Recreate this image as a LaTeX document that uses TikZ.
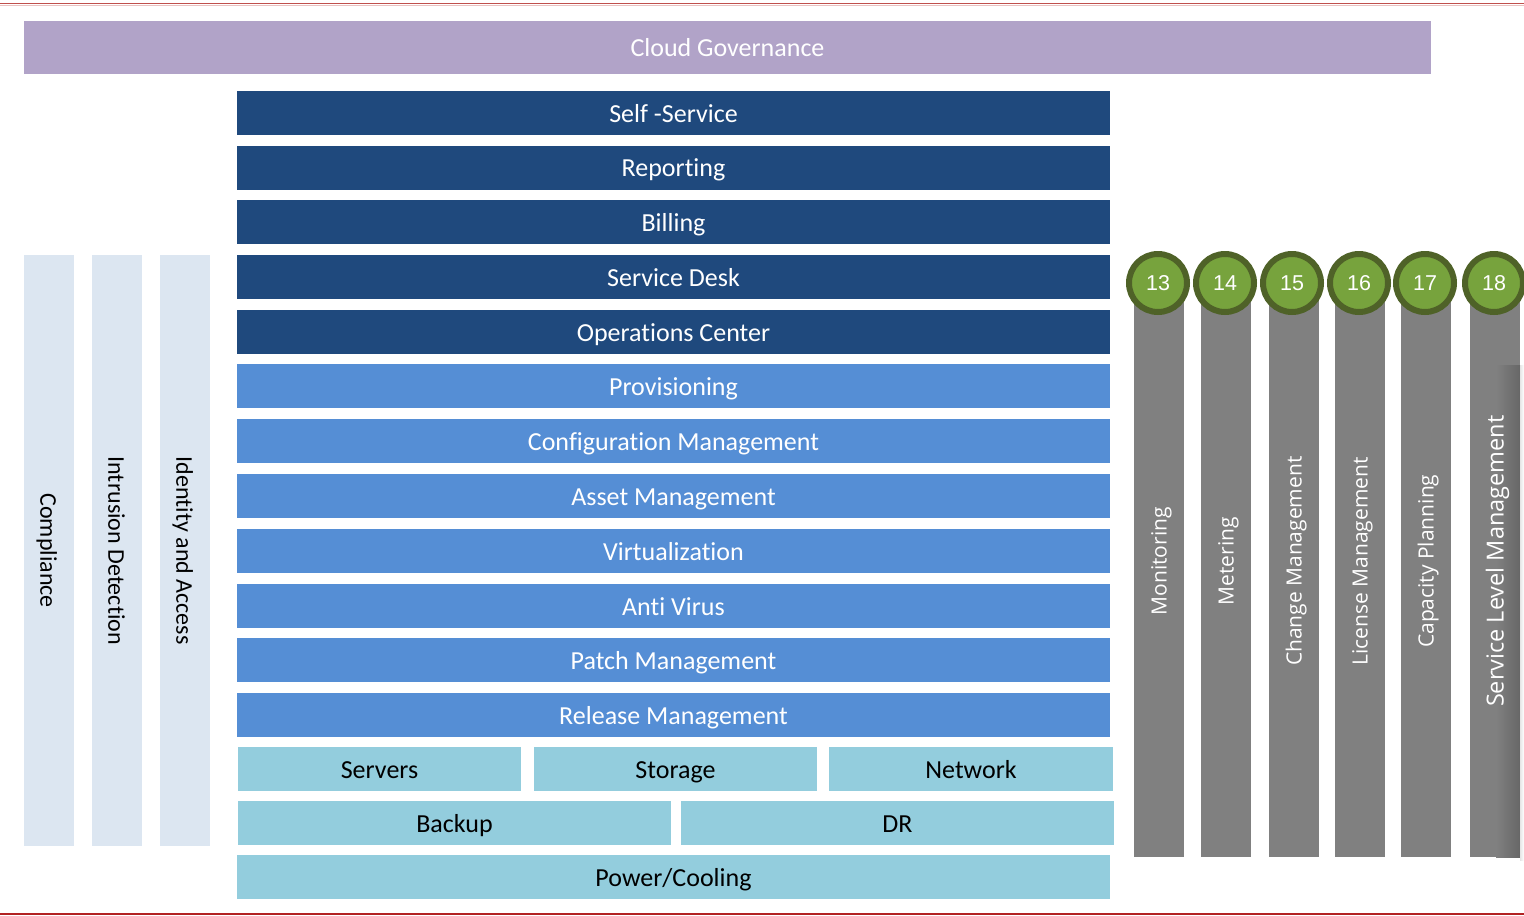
\documentclass[tikz,border=0pt]{standalone}
\usepackage{fontspec}
\setmainfont{Carlito}[Ligatures=NoCommon]
\newfontfamily\grayfont{Open Sans}[Ligatures=NoCommon]
\newfontfamily\numfont{Liberation Sans}
\definecolor{govc}{RGB}{177,163,200}
\definecolor{darkb}{RGB}{31,73,125}
\definecolor{midb}{RGB}{85,142,213}
\definecolor{lightb}{RGB}{147,205,221}
\definecolor{paleb}{RGB}{220,230,241}
\definecolor{grayc}{RGB}{128,128,128}
\definecolor{grnfill}{RGB}{119,163,61}
\definecolor{grnline}{RGB}{79,98,40}
\definecolor{redline}{RGB}{178,34,34}
\definecolor{topred}{RGB}{192,80,77}
\begin{document}
\begin{tikzpicture}[x=1pt,y=-1pt,
  bar/.style={anchor=north west,inner sep=0pt,outer sep=0pt,font=\fontsize{26}{30}\selectfont,text height=18.5pt,text depth=0pt},
  darkbar/.style={bar,fill=darkb,text=white,minimum width=873pt,minimum height=44pt},
  midbar/.style={bar,fill=midb,text=white,minimum width=873pt,minimum height=44pt},
  lightbar/.style={bar,fill=lightb,text=black,minimum height=44pt},
  leftcol/.style={anchor=north west,inner sep=0pt,fill=paleb,minimum width=50pt,minimum height=591pt},
  lefttext/.style={rotate=-90,inner sep=0pt,font=\fontsize{24}{28}\selectfont,text height=15.5pt,text depth=0pt},
  graycol/.style={anchor=north west,inner sep=0pt,fill=grayc,minimum width=50pt,minimum height=592pt},
  graytext/.style={text=white,rotate=90,inner sep=0pt,font=\grayfont\fontsize{21}{24}\selectfont,text height=15pt,text depth=0pt},
  numc/.style={circle,fill=grnfill,draw=grnline,line width=6pt,minimum size=58pt,inner sep=0pt,text=white,font=\numfont\fontsize{21.5}{24}\selectfont,text height=15.4pt,text depth=0pt}]
\useasboundingbox (0,0) rectangle (1524,916);
% top and bottom rules
\draw[topred!35,line width=1.5pt] (0,5.5) -- (1524,5.5);
\draw[topred,line width=1.6pt] (0,3.5) -- (1524,3.5);
\draw[redline,line width=2pt] (0,914) -- (1524,914);
% governance
\node[bar,fill=govc,text=white,minimum width=1407pt,minimum height=53pt] (gov) at (24,21) {Cloud Governance};
% dark bars
\node[darkbar] (ss) at (237,91) {Self -Service};
\node[darkbar] (rep) at (237,145.5) {Reporting};
\node[darkbar] (bil) at (237,200) {Billing};
\node[darkbar] (sd) at (237,255) {Service Desk};
\node[darkbar] (oc) at (237,310) {Operations Center};
% mid bars
\node[midbar] (prov) at (237,364) {Provisioning};
\node[midbar] (cfg) at (237,419) {Configuration Management};
\node[midbar] (asset) at (237,474) {Asset Management};
\node[midbar] (virt) at (237,529) {Virtualization};
\node[midbar] (av) at (237,584) {Anti Virus};
\node[midbar] (patch) at (237,638) {Patch Management};
\node[midbar] (rel) at (237,693) {Release Management};
% light bars
\node[lightbar,minimum width=283pt] (srv) at (238,747) {Servers};
\node[lightbar,minimum width=283pt] (sto) at (534,747) {Storage};
\node[lightbar,minimum width=284pt] (net) at (829,747) {Network};
\node[lightbar,minimum width=433pt] (bak) at (238,801) {Backup};
\node[lightbar,minimum width=433pt] (dr) at (681,801) {DR};
\node[lightbar,minimum width=873pt] (pwr) at (237,855) {Power/Cooling};
% left columns
\node[leftcol] (comp) at (24,255) {};
\node[leftcol] (ids) at (92,255) {};
\node[leftcol] (iam) at (160,255) {};
\node[lefttext] at ([xshift=-1pt]comp.center) {Compliance};
\node[lefttext] at ([xshift=-1pt]ids.center) {Intrusion Detection};
\node[lefttext] at ([xshift=-1pt]iam.center) {Identity and Access};
% gray columns
\node[graycol] (g13) at (1134,265) {};
\node[graycol] (g14) at (1201,265) {};
\node[graycol] (g15) at (1269,265) {};
\node[graycol] (g16) at (1335,265) {};
\node[graycol] (g17) at (1401,265) {};
\node[graycol] (g18) at (1470,265) {};
\shade[left color=grayc,right color=grayc!80!black] (1496,365) rectangle (1520,857);
\shade[left color=black!10,right color=white] (1520,365) rectangle (1524,860);
\node[graytext] at (g13.center) {Monitoring};
\node[graytext] at (g14.center) {Metering};
\node[graytext] at (g15.center) {Change Management};
\node[graytext] at (g16.center) {License Management};
\node[graytext] at (g17.center) {Capacity Planning};
\node[graytext,font=\grayfont\fontsize{23.5}{28}\selectfont,text height=16.8pt] at (g18.center) {Service Level Management};
% circles
\node[numc] (n13) at (1158,283) {13};
\node[numc] (n14) at (1225,283) {14};
\node[numc] (n15) at (1292,283) {15};
\node[numc] (n16) at (1359,283) {16};
\node[numc] (n17) at (1425,283) {17};
\node[numc] (n18) at (1494,283) {18};
\end{tikzpicture}
\end{document}
